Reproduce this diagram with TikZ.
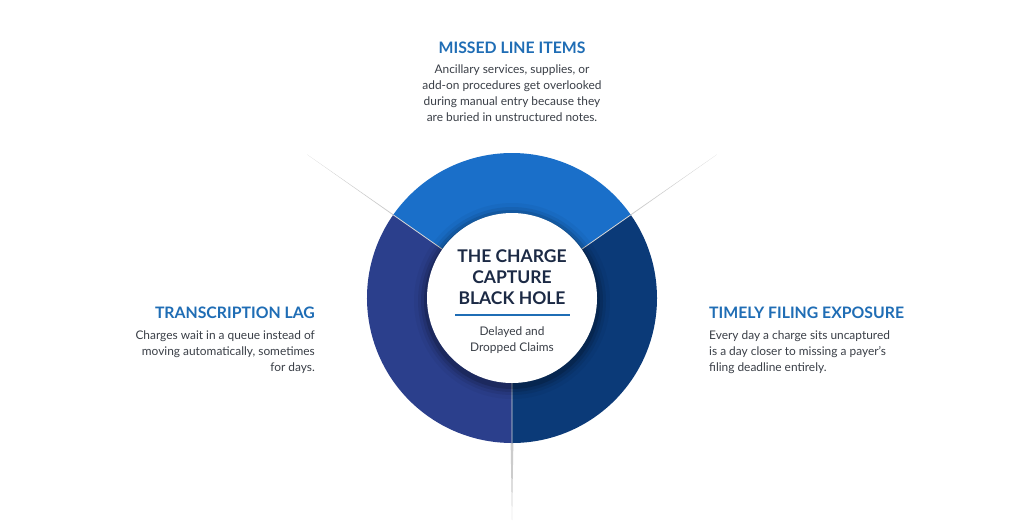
\documentclass[tikz,border=0pt]{standalone}
\usepackage{fontspec}
\setmainfont{Lato}
\usetikzlibrary{positioning,calc}
\definecolor{headblue}{HTML}{1F6DB5}
\definecolor{bodygray}{HTML}{3A3F47}
\definecolor{segtop}{HTML}{1A6FC9}
\definecolor{segleft}{HTML}{2B3F8C}
\definecolor{segright}{HTML}{0B3A78}
\definecolor{navy}{HTML}{1C2A45}
\tikzset{
  head/.style={font=\bfseries\fontsize{15.8}{18}\selectfont, text=headblue, inner sep=0pt},
  body/.style={font=\fontsize{11.9}{16}\selectfont, text=bodygray, inner sep=0pt},
  spoke/.style={fill=gray!40, draw=none},
}
\begin{document}
\begin{tikzpicture}[x=1pt,y=-1pt]
  \useasboundingbox[fill=white] (0,0) rectangle (1024,520);
  \coordinate (c) at (512,298);
  % spokes behind the ring
  \fill[spoke] ($(c)+(-138:8)$) -- ($(c)+(-145:250)$) -- ($(c)+(-152:8)$) -- cycle;
  \fill[spoke] ($(c)+(-28:8)$) -- ($(c)+(-35:250)$) -- ($(c)+(-42:8)$) -- cycle;
  \fill[spoke] ($(c)+(-4,0)$) -- (512,520) -- ($(c)+(4,0)$) -- cycle;
  % ring segments
  \fill[segtop] (c) -- ++(-35:145) arc[start angle=-35, end angle=-145, radius=145] -- cycle;
  \fill[segleft] (c) -- ++(-145:145) arc[start angle=-145, end angle=-270, radius=145] -- cycle;
  \fill[segright] (c) -- ++(-270:145) arc[start angle=-270, end angle=-395, radius=145] -- cycle;
  \draw[white!70!gray, line width=0.8pt] (c) -- ++(-145:145) (c) -- ++(-35:145) (c) -- ++(-270:145);
  % centre disc with soft shadow
  \foreach \r/\o in {98/0.04, 94/0.07, 91/0.1, 88/0.15}
    \fill[black, opacity=\o] ($(c)+(0,3)$) circle (\r);
  \fill[white] (c) circle (85);
  \node[font=\bfseries\fontsize{17.5}{21}\selectfont, text=navy, align=center] (hole) at (512,277)
    {THE CHARGE\\CAPTURE\\BLACK HOLE};
  \draw[headblue, line width=1.2pt] (455,315) -- (570,315);
  \node[font=\fontsize{11.9}{16}\selectfont, text=bodygray, align=center] (claims) at (512,340)
    {Delayed and\\Dropped Claims};
  % top item
  \node[head] (missed) at (512,48) {MISSED LINE ITEMS};
  \node[body, align=center, below=10pt of missed] (missedtxt)
    {Ancillary services, supplies, or\\add-on procedures get overlooked\\during manual entry because they\\are buried in unstructured notes.};
  % left item
  \node[head, anchor=east] (lag) at (315,313) {TRANSCRIPTION LAG};
  \node[body, align=right, anchor=north east] (lagtxt) at (315,331)
    {Charges wait in a queue instead of\\moving automatically, sometimes\\for days.};
  % right item
  \node[head, anchor=west] (filing) at (709,313) {TIMELY FILING EXPOSURE};
  \node[body, align=left, anchor=north west] (filingtxt) at (709,331)
    {Every day a charge sits uncaptured\\is a day closer to missing a payer's\\filing deadline entirely.};
\end{tikzpicture}
\end{document}
